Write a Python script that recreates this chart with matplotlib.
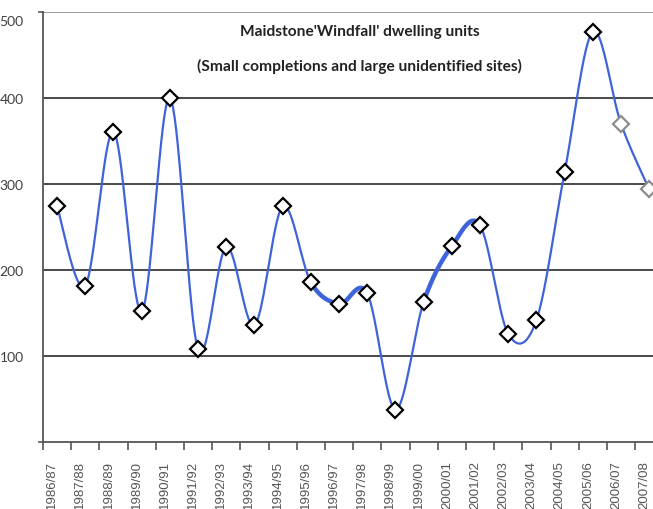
import numpy as np
import matplotlib.pyplot as plt
from matplotlib.transforms import ScaledTranslation

years = ["1986/87", "1987/88", "1988/89", "1989/90", "1990/91", "1991/92",
         "1992/93", "1993/94", "1994/95", "1995/96", "1996/97", "1997/98",
         "1998/99", "1999/00", "2000/01", "2001/02", "2002/03", "2003/04",
         "2004/05", "2005/06", "2006/07", "2007/08"]
units = [274, 182, 361, 152, 400, 108, 227, 136, 274, 186, 161, 173,
         38, 163, 228, 252, 126, 142, 314, 477, 370, 294]
# last two years drawn with grey markers
estimated = [False] * 20 + [True, True]


def smooth(xs, ys, n=40, tension=0.5):
    # cardinal spline through the points, like a spreadsheet "smoothed line"
    xs = np.asarray(xs, float)
    ys = np.asarray(ys, float)
    px, py = [], []
    for i in range(len(xs) - 1):
        i0, i3 = max(i - 1, 0), min(i + 2, len(xs) - 1)
        m1x = tension * (xs[i + 1] - xs[i0])
        m1y = tension * (ys[i + 1] - ys[i0])
        m2x = tension * (xs[i3] - xs[i])
        m2y = tension * (ys[i3] - ys[i])
        t = np.linspace(0, 1, n, endpoint=(i == len(xs) - 2))
        h00 = 2 * t**3 - 3 * t**2 + 1
        h10 = t**3 - 2 * t**2 + t
        h01 = -2 * t**3 + 3 * t**2
        h11 = t**3 - t**2
        px.extend(h00 * xs[i] + h10 * m1x + h01 * xs[i + 1] + h11 * m2x)
        py.extend(h00 * ys[i] + h10 * m1y + h01 * ys[i + 1] + h11 * m2y)
    return np.array(px), np.array(py)


fig = plt.figure(figsize=(6.53, 5.10), dpi=100)
ax = fig.add_axes([0.0658, 0.1308, 0.950, 0.8437])

x = np.arange(len(years))
sx, sy = smooth(x, units)
blue = "#3f63d9"
ax.plot(sx, sy, color=blue, lw=1.6, zorder=3)
# the heavier stretches of the curve
for a, b in [(9, 11), (13, 15)]:
    m = (sx >= a) & (sx <= b - 0.15)
    ax.plot(sx[m], sy[m], color=blue, lw=3.2, zorder=3, solid_capstyle="round")

for xi, yi, est in zip(x, units, estimated):
    ax.plot(xi, yi, marker="D", ms=8.5, mfc="white",
            mec="#8c8c8c" if est else "black", mew=1.6, zorder=4,
            clip_on=False)

ax.set_xlim(-0.5, len(years) - 0.5)
ax.set_ylim(0, 500)

ax.set_yticks([100, 200, 300, 400, 500])
ax.tick_params(axis="y", length=0, pad=14, labelsize=10, labelcolor="#404040")
for lbl in ax.get_yticklabels():
    lbl.set_family("Lato")
# top label sits a little below its gridline
top = ax.get_yticklabels()[-1]
top.set_transform(top.get_transform() + ScaledTranslation(0, -8 / 100, fig.dpi_scale_trans))
for yv in [100, 200, 300, 400]:
    ax.axhline(yv, color="#3a3a3a", lw=1.3, zorder=1)
ax.axhline(500, color="#8a8a8a", lw=1.2, zorder=1)
ax.plot([-0.64, -0.5], [500, 500], color="#555555", lw=1.2, clip_on=False)
ax.plot([-0.64, -0.5], [0, 0], color="#555555", lw=1.2, clip_on=False)

ax.set_xticks(x)
ax.set_xticklabels(years, rotation=90, fontsize=9.5, color="#555555",
                   family="Liberation Sans")
ax.set_xticks(np.arange(-0.5, len(years)), minor=True)
ax.tick_params(axis="x", which="major", length=0, pad=13)
ax.tick_params(axis="x", which="minor", length=6, width=1.2,
               color="#555555", direction="out")
shift = ScaledTranslation(-5 / 100, 0, fig.dpi_scale_trans)
for lbl in ax.get_xticklabels():
    lbl.set_transform(lbl.get_transform() + shift)

for side in ["top", "right"]:
    ax.spines[side].set_visible(False)
for side in ["left", "bottom"]:
    ax.spines[side].set_color("#555555")
    ax.spines[side].set_linewidth(1.3)

ax.text(0.51, 0.955, "Maidstone'Windfall' dwelling units", transform=ax.transAxes,
        ha="center", va="center", fontsize=11.2, fontweight="bold",
        family="Lato", color="#222222")
ax.text(0.51, 0.876, "(Small completions and large unidentified sites)",
        transform=ax.transAxes, ha="center", va="center", fontsize=11.2,
        fontweight="bold", family="Lato", color="#222222")

fig.savefig("out.png", dpi=100)
